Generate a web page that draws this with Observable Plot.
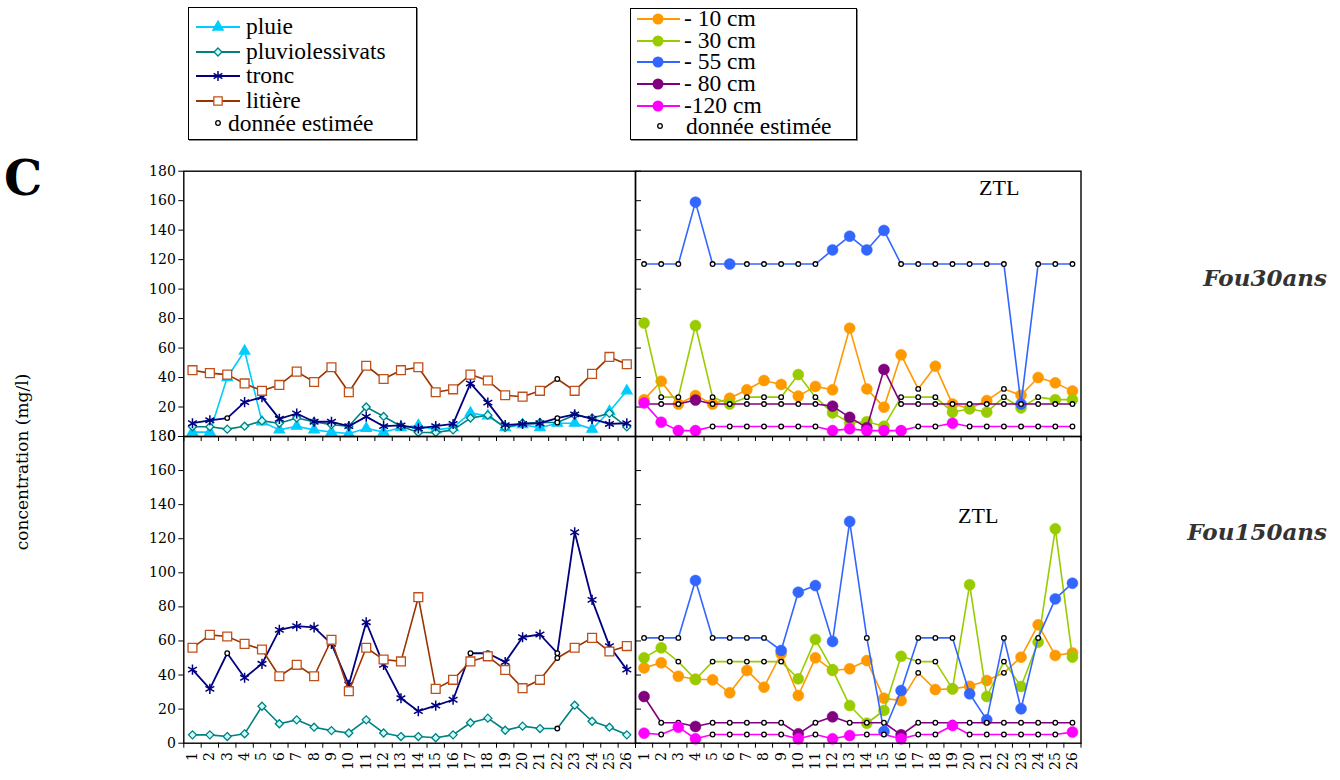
<!DOCTYPE html>
<html><head><meta charset="utf-8">
<script src="https://cdn.jsdelivr.net/npm/d3@7"></script>
<script src="https://cdn.jsdelivr.net/npm/@observablehq/plot@0.6"></script>
<style>
body{margin:0;background:#fff;}
#root{position:relative;width:1340px;height:780px;overflow:hidden;background:#fff;}
#root svg text{font-family:"DejaVu Serif",serif;}
#root svg text.lg{font-family:"Liberation Serif",serif;}
</style></head><body><div id="root"></div>
<script>
// ---------- DATA ----------
const jours = [1,2,3,4,5,6,7,8,9,10,11,12,13,14,15,16,17,18,19,20,21,22,23,24,25,26];
const yTickValues = [0,20,40,60,80,100,120,140,160,180];

// Fou30ans – apports (gauche)
const f30_pluie   = [3,3,40,58,10,4.5,7,4.5,3,2,5.5,3,6,7.5,4.5,6,16,14,6,8,6,9,9,5,17,31];
const f30_pluvio  = [6.6,6.6,5,7,10.6,9,12.5,10,8,7,20,13.6,7,2.7,2.7,4.5,12.5,14.5,6,9,9.5,9.5,14.6,12.5,15.7,6.5];
const f30_tronc   = [9,11,12.5,23.3,26.7,12,15.6,10,10,7,13.5,7,7.5,5.5,7,8.5,36,23,7.7,8.5,9,12.5,15,12,8.5,9];
const f30_litiere = [45,43,42,36,31,35,44,37,47,30,48,39,45,47,30,32,42,38,28,27,31,39,31,42.5,54,49];
const f30_pluie_est = [];
const f30_pluvio_est = [22];
const f30_tronc_est = [3,22];
const f30_litiere_est = [22];

// Fou30ans – solutions du sol (droite)
const f30_s10  = [25,37.5,22,27.8,22,26,31.7,38,35.3,27.4,34,31.7,73.5,32.3,19.9,55.4,32.3,47.7,22,19,24.4,32.3,28,40,36.4,30.8];
const f30_s30  = [77,26.7,26.7,75.3,26.7,22,26.7,26.7,26.7,42,26.7,16,9.3,10,7,26.7,26.7,26.7,16.5,18.8,16.5,26.7,19.4,26.7,25,25];
const f30_s55  = [117,117,117,159,117,117,117,117,117,117,117,126.6,135.9,126.6,139.8,117,117,117,117,117,117,117,22,117,117,117];
const f30_s80  = [22,22,22,24.7,22,22,22,22,22,22,22,20.6,13,6,45.5,22,22,22,22,22,22,22,22,22,22,22];
const f30_s120 = [22.8,9.7,4,4,6.8,6.8,6.8,6.8,6.8,6.8,6.8,4,5.2,4,4,4,6.8,6.8,9,6.8,6.8,6.8,6.8,6.8,6.8,6.8];
const f30_s10_est  = [17,22];
const f30_s30_est  = [2,3,5,7,8,9,11,16,17,18,22,24];
const f30_s55_est  = [1,2,3,5,7,8,9,10,11,16,17,18,19,20,21,22,24,25,26];
const f30_s80_est  = [1,2,3,5,6,7,8,9,10,11,16,17,18,19,20,21,22,23,24,25,26];
const f30_s120_est = [5,6,7,8,9,10,11,17,18,20,21,22,23,24,25,26];

// Fou150ans – apports (gauche)
const f150_pluvio  = [4.9,4.9,3.9,5.5,21.7,11.4,13.7,9.4,7.4,6,13.7,6,3.9,3.9,3.2,4.9,12,14.7,7.6,10,8.6,8.6,22.3,12.9,9.4,4.9];
const f150_tronc   = [43.2,31.9,52.8,38.4,46.6,66.5,68.7,68,58.3,34.3,71,46,26.4,18.8,22.1,25.5,52.8,52.8,47.6,62.2,63.8,52.8,123.8,84.1,57,43.2];
const f150_litiere = [56,63.6,62.6,58.3,55,39.3,46,39.3,60.7,30.5,56,49.1,48,85.7,31.9,37.2,48,51,43,32.3,37.2,50,56,61.8,53.8,57];
const f150_pluvio_est = [22];
const f150_tronc_est = [3,17,18,22];
const f150_litiere_est = [22];

// Fou150ans – solutions du sol (droite)
const f150_s10  = [44.2,47.2,39.3,37.5,37.2,29.6,42.7,32.9,52.5,28,50.1,42.7,43.7,48.5,26.4,25,41.3,31.5,31.9,33.4,36.8,41.3,50.5,69.5,51.5,53];
const f150_s30  = [50.1,56,47.9,37.4,47.9,47.9,47.9,47.9,47.9,37.8,60.9,43.2,22.1,11.7,19.2,51,47.9,47.9,31.9,93,27.4,47.9,33.3,59.3,125.8,50.5];
const f150_s55  = [61.8,61.8,61.8,95.5,61.8,61.8,61.8,61.8,54.4,88.6,92.5,59.7,130.1,61.8,6.9,30.9,61.8,61.8,61.8,29,13.7,61.8,20.2,61.8,84.7,93.9];
const f150_s80  = [27.4,12,12,9.8,12,12,12,12,12,5.5,12,15.5,12,12,12,4.9,12,12,12,12,12,12,12,12,12,12];
const f150_s120 = [5.9,5.1,9.4,2.6,5.1,5.1,5.1,5.1,5.1,2.6,5.1,2.6,4.5,5.1,5.1,2.6,5.1,5.1,10.4,5.1,5.1,5.1,5.1,5.1,5.1,6.5];
const f150_s10_est  = [17,22];
const f150_s30_est  = [3,5,6,7,8,9,17,18,22];
const f150_s55_est  = [1,2,3,5,6,7,8,14,17,18,19,22,24];
const f150_s80_est  = [2,3,5,6,7,8,9,11,13,14,15,17,18,19,20,21,22,23,24,25,26];
const f150_s120_est = [2,5,6,7,8,9,11,14,15,17,18,20,21,22,23,24,25];

const leftNames = ["pluie","pluviolessivats","tronc","litière","donnée estimée"];
const rightNames = ["- 10 cm","- 30 cm","- 55 cm","- 80 cm","-120 cm","donnée estimée"];
const siteNames = ["Fou30ans","Fou150ans"];
const zoneLabel = "ZTL";
const yTitle = "concentration (mg/l)";
const panelLetter = "C";

// ---------- STYLES ----------
const C = {pluie:"#00CCFF", pluvio:"#008080", pluvioFill:"#CCFFFF", tronc:"#000080", litiere:"#993300", litiereMk:"#C0501A",
  s10:"#FF9900", s30:"#99CC00", s55:"#3366FF", s80:"#800080", s120:"#FF00FF"};
const root = document.getElementById("root");
const W = 1340, H = 780;
const X0 = 183.3, XM = 635, X1 = 1080.5;
const YT = 170.7, YM = 436, YB = 742.7;
const SERIF = "DejaVu Serif, serif";
const bounds = d3.range(0.5, 26.6, 1);

function rows(values, est) { return jours.map((j, i) => ({j, v: values[i], est: est.includes(j)})); }

function seriesMarks(values, est, st) {
  const data = rows(values, est);
  const meas = data.filter(d => !d.est), es = data.filter(d => d.est);
  return [
    Plot.line(data, {x: "j", y: "v", stroke: st.stroke, strokeWidth: st.sw ?? 1.6}),
    Plot.dot(meas, {x: "j", y: "v", symbol: st.symbol, r: st.r, fill: st.fill, stroke: st.mstroke, strokeWidth: st.msw ?? 1.2}),
    Plot.dot(es, {x: "j", y: "v", r: 2.3, fill: "white", stroke: "black", strokeWidth: 1.3})
  ];
}

function panel({l, r, t, b, left, bottom, series}) {
  const marks = [];
  if (left) {
    marks.push(Plot.axisY({ticks: yTickValues, anchor: "left", tickSize: 5, tickPadding: 3, label: null,
      fontFamily: SERIF, fontSize: 14, tickFormat: d => String(d)}));
    marks.push(Plot.axisY({ticks: yTickValues, anchor: "right", tickSize: 5, label: null, tickFormat: () => ""}));
  }
  marks.push(Plot.axisX({ticks: bounds, anchor: "bottom", tickSize: 5, label: null, tickFormat: () => ""}));
  if (bottom) marks.push(Plot.axisX({ticks: jours, anchor: "bottom", tickSize: 0, tickPadding: 9, tickRotate: -90, label: null,
      fontFamily: SERIF, fontSize: 14, tickFormat: d => String(d)}));
  for (const s of series) marks.push(...seriesMarks(s.values, s.est, s.style));
  marks.push(Plot.frame({stroke: "#000", strokeWidth: 1.4}));
  const svg = Plot.plot({
    width: W, height: H,
    marginLeft: l, marginRight: W - r, marginTop: t, marginBottom: H - b,
    x: {domain: [0.5, 26.5], axis: null},
    y: {domain: [0, 180], axis: null},
    style: {background: "none", overflow: "visible", fontFamily: SERIF, fontSize: "14px", color: "#000"},
    marks
  });
  svg.style.position = "absolute"; svg.style.left = "0px"; svg.style.top = "0px"; svg.style.maxWidth = "none";
  svg.style.fontFamily = SERIF;
  root.appendChild(svg);
}

const stPluie = {stroke: C.pluie, sw: 1.6, symbol: "triangle", r: 3.9, fill: C.pluie, mstroke: C.pluie};
const stPluvio = {stroke: C.pluvio, sw: 1.6, symbol: "diamond2", r: 3.6, fill: C.pluvioFill, mstroke: C.pluvio, msw: 1.3};
const stTronc = {stroke: C.tronc, sw: 1.8, symbol: "asterisk", r: 4.8, fill: "none", mstroke: C.tronc, msw: 1.5};
const stLit = {stroke: C.litiere, sw: 1.6, symbol: "square", r: 5, fill: "white", mstroke: C.litiereMk, msw: 1.3};
const dotSt = c => ({stroke: c, sw: 1.6, symbol: "circle", r: 5.5, fill: c, mstroke: c, msw: 0.5});

panel({l: X0, r: XM, t: YT, b: YM, left: true, bottom: false, series: [
  {values: f30_pluie, est: f30_pluie_est, style: stPluie},
  {values: f30_pluvio, est: f30_pluvio_est, style: stPluvio},
  {values: f30_tronc, est: f30_tronc_est, style: stTronc},
  {values: f30_litiere, est: f30_litiere_est, style: stLit}]});
panel({l: XM, r: X1, t: YT, b: YM, left: false, bottom: false, series: [
  {values: f30_s10, est: f30_s10_est, style: dotSt(C.s10)},
  {values: f30_s30, est: f30_s30_est, style: dotSt(C.s30)},
  {values: f30_s55, est: f30_s55_est, style: dotSt(C.s55)},
  {values: f30_s80, est: f30_s80_est, style: dotSt(C.s80)},
  {values: f30_s120, est: f30_s120_est, style: dotSt(C.s120)}]});
panel({l: X0, r: XM, t: YM, b: YB, left: true, bottom: true, series: [
  {values: f150_pluvio, est: f150_pluvio_est, style: stPluvio},
  {values: f150_tronc, est: f150_tronc_est, style: stTronc},
  {values: f150_litiere, est: f150_litiere_est, style: stLit}]});
panel({l: XM, r: X1, t: YM, b: YB, left: false, bottom: true, series: [
  {values: f150_s10, est: f150_s10_est, style: dotSt(C.s10)},
  {values: f150_s30, est: f150_s30_est, style: dotSt(C.s30)},
  {values: f150_s55, est: f150_s55_est, style: dotSt(C.s55)},
  {values: f150_s80, est: f150_s80_est, style: dotSt(C.s80)},
  {values: f150_s120, est: f150_s120_est, style: dotSt(C.s120)}]});

// ---------- TEXT & LEGENDS ----------
const ov = d3.select(root).append("svg").attr("width", W).attr("height", H)
  .style("position", "absolute").style("left", 0).style("top", 0).style("pointer-events", "none");

ov.append("text").attr("x", 4).attr("y", 195).attr("font-weight", "bold").attr("font-size", 48).text(panelLetter);
ov.append("text").attr("transform", "translate(28,462) rotate(-90)").attr("text-anchor", "middle")
  .attr("font-size", 17).text(yTitle);
ov.append("text").attr("x", 1327).attr("y", 286).attr("text-anchor", "end").attr("fill", "#333")
  .attr("font-weight", "bold").attr("font-style", "italic").attr("font-size", 23).text(siteNames[0]);
ov.append("text").attr("x", 1327).attr("y", 540).attr("text-anchor", "end").attr("fill", "#333")
  .attr("font-weight", "bold").attr("font-style", "italic").attr("font-size", 23).text(siteNames[1]);
ov.append("text").attr("class", "lg").attr("x", 979).attr("y", 195).attr("font-size", 22).text(zoneLabel);
ov.append("text").attr("class", "lg").attr("x", 958).attr("y", 523).attr("font-size", 22).text(zoneLabel);

function symPath(type, area) { return d3.symbol(type, area)(); }
const LFS = 23.5;

// left legend
const lg = ov.append("g");
lg.append("rect").attr("x", 189.5).attr("y", 8.5).attr("width", 228).attr("height", 132).attr("fill", "none").attr("stroke", "#888").attr("stroke-width", 1);
lg.append("rect").attr("x", 188.5).attr("y", 7.5).attr("width", 228).attr("height", 132).attr("fill", "white").attr("stroke", "#000").attr("stroke-width", 1);
const lItems = [
  {st: stPluie, type: d3.symbolTriangle, area: 48},
  {st: stPluvio, type: d3.symbolDiamond2, area: 40},
  {st: stTronc, type: d3.symbolAsterisk, area: 72},
  {st: stLit, type: d3.symbolSquare, area: 70}];
const lY = [27, 52, 76, 101, 124];
lItems.forEach((it, i) => {
  const y = lY[i];
  lg.append("line").attr("x1", 196).attr("x2", 240).attr("y1", y).attr("y2", y).attr("stroke", it.st.stroke).attr("stroke-width", 2);
  lg.append("path").attr("d", symPath(it.type, it.area)).attr("transform", `translate(218,${y})`)
    .attr("fill", it.st.fill).attr("stroke", it.st.mstroke).attr("stroke-width", it.st.msw ?? 1.2);
  lg.append("text").attr("class", "lg").attr("x", 246).attr("y", y + 7).attr("font-size", LFS).text(leftNames[i]);
});
lg.append("circle").attr("cx", 218).attr("cy", lY[4] - 1).attr("r", 2.3).attr("fill", "white").attr("stroke", "black").attr("stroke-width", 1.3);
lg.append("text").attr("class", "lg").attr("x", 228).attr("y", lY[4] + 7).attr("font-size", LFS).text(leftNames[4]);

// right legend
const rg = ov.append("g");
rg.append("rect").attr("x", 631.5).attr("y", 9.5).attr("width", 226).attr("height", 131).attr("fill", "none").attr("stroke", "#888").attr("stroke-width", 1);
rg.append("rect").attr("x", 630.5).attr("y", 8.5).attr("width", 226).attr("height", 131).attr("fill", "white").attr("stroke", "#000").attr("stroke-width", 1);
const rCols = [C.s10, C.s30, C.s55, C.s80, C.s120];
const rY = [19, 41, 62, 84, 106, 127];
rCols.forEach((c, i) => {
  const y = rY[i];
  rg.append("line").attr("x1", 637).attr("x2", 680).attr("y1", y).attr("y2", y).attr("stroke", c).attr("stroke-width", 2);
  rg.append("circle").attr("cx", 658).attr("cy", y).attr("r", 5.5).attr("fill", c);
  rg.append("text").attr("class", "lg").attr("x", 684).attr("y", y + 7).attr("font-size", LFS).text(rightNames[i]);
});
rg.append("circle").attr("cx", 660).attr("cy", rY[5] - 1).attr("r", 2.3).attr("fill", "white").attr("stroke", "black").attr("stroke-width", 1.3);
rg.append("text").attr("class", "lg").attr("x", 686).attr("y", rY[5] + 7).attr("font-size", LFS).text(rightNames[5]);
</script></body></html>
